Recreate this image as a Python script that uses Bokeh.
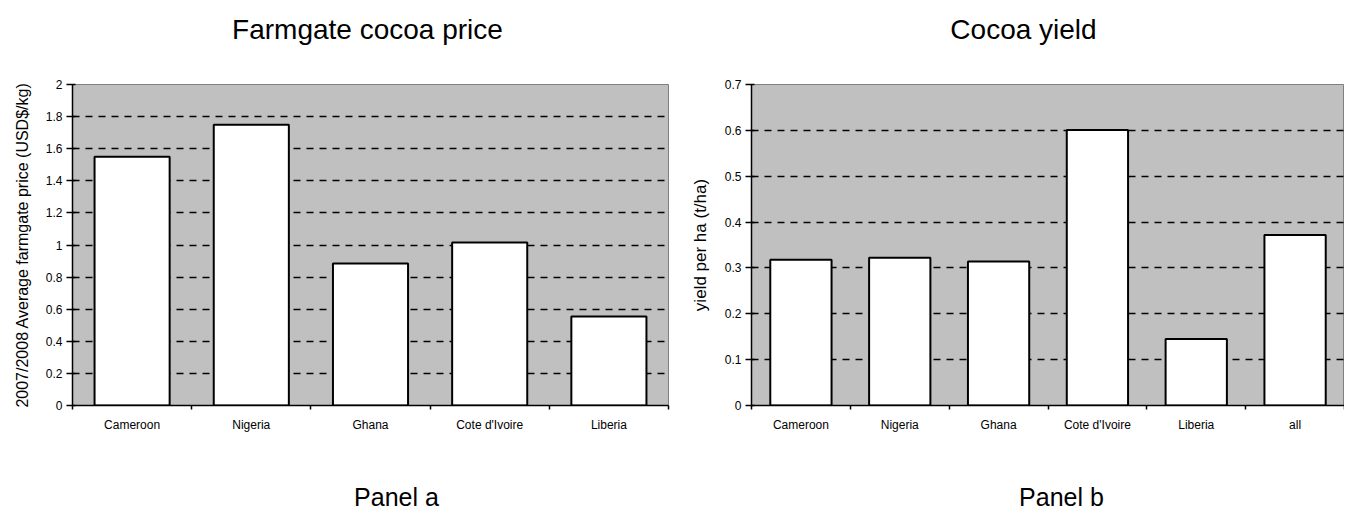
from bokeh.plotting import figure
from bokeh.models import FixedTicker, Range1d, ColumnDataSource
from bokeh.layouts import row, column
from bokeh.core.properties import value
from bokeh.embed import file_html
from bokeh.resources import INLINE

# ---- data ----
price_countries = ["Cameroon", "Nigeria", "Ghana", "Cote d'Ivoire", "Liberia"]
price_values = [1.55, 1.75, 0.885, 1.015, 0.555]
price_ticks = [0, 0.2, 0.4, 0.6, 0.8, 1, 1.2, 1.4, 1.6, 1.8, 2]
price_tick_labels = ["0", "0.2", "0.4", "0.6", "0.8", "1", "1.2", "1.4", "1.6", "1.8", "2"]

yield_countries = ["Cameroon", "Nigeria", "Ghana", "Cote d'Ivoire", "Liberia", "all"]
yield_values = [0.318, 0.322, 0.314, 0.601, 0.145, 0.372]
yield_ticks = [0, 0.1, 0.2, 0.3, 0.4, 0.5, 0.6, 0.7]
yield_tick_labels = ["0", "0.1", "0.2", "0.3", "0.4", "0.5", "0.6", "0.7"]

chart_titles = ["Farmgate cocoa price", "Cocoa yield"]
panel_names = ["Panel a", "Panel b"]
y_labels = ["2007/2008 Average farmgate price (USD$/kg)", "yield per ha (t/ha)"]

FONT = "Liberation Sans"
WA, WB = 686, 658
H_HEAD, H_MAIN, H_FOOT = 60, 378, 80
FRAME_TOP, FRAME_H = 24, 321


def text_fig(width, height, txt, x, y, size):
    p = figure(width=width, height=height, output_backend="svg", toolbar_location=None,
               x_range=Range1d(0, width), y_range=Range1d(0, height),
               min_border=0, x_axis_type=None, y_axis_type=None)
    p.outline_line_color = None
    p.grid.visible = False
    p.background_fill_color = "white"
    p.border_fill_color = "white"
    p.text(x=[x], y=[y], text=[txt], text_font=value(FONT), text_font_size=size,
           text_color="black", text_align="center", text_baseline="middle")
    return p


def panel(cats, vals, ticks, tick_labels, ylabel, ylabel_size, width, ml, mr, bar_w):
    n = len(cats)
    centers = [i + 0.5 for i in range(n)]
    bounds = [float(i) for i in range(n + 1)]
    p = figure(width=width, height=H_MAIN, output_backend="svg", toolbar_location=None,
               x_range=Range1d(0, n), y_range=Range1d(ticks[0], ticks[-1]),
               min_border_left=ml, min_border_right=mr, min_border_top=FRAME_TOP,
               min_border_bottom=H_MAIN - FRAME_TOP - FRAME_H)
    p.background_fill_color = "#C0C0C0"
    p.border_fill_color = "white"
    p.outline_line_color = "#808080"
    p.outline_line_width = 1

    src = ColumnDataSource(dict(x=centers, top=vals, cat=cats))
    p.vbar(x="x", top="top", bottom=0, width=bar_w, source=src,
           fill_color="white", line_color="black", line_width=2)

    xa = p.xaxis[0]
    xa.ticker = FixedTicker(ticks=centers, minor_ticks=bounds)
    xa.major_label_overrides = {c: name for c, name in zip(centers, cats)}
    xa.major_tick_out = 0
    xa.major_tick_in = 0
    xa.minor_tick_out = 4
    xa.minor_tick_in = 0
    xa.minor_tick_line_color = "black"
    xa.minor_tick_line_width = 1.5
    xa.axis_line_color = "black"
    xa.axis_line_width = 1.5
    xa.major_label_standoff = 8
    xa.major_label_text_font = FONT
    xa.major_label_text_font_size = "12px"
    xa.major_label_text_color = "black"

    ya = p.yaxis[0]
    ya.ticker = FixedTicker(ticks=ticks)
    ya.major_label_overrides = {t: l for t, l in zip(ticks, tick_labels)}
    ya.major_tick_out = 6
    ya.major_tick_in = 3
    ya.major_tick_line_color = "black"
    ya.major_tick_line_width = 1.5
    ya.minor_tick_out = 0
    ya.minor_tick_in = 0
    ya.axis_line_color = "black"
    ya.axis_line_width = 1.5
    ya.major_label_standoff = 4
    ya.major_label_text_font = FONT
    ya.major_label_text_font_size = "12px"
    ya.major_label_text_color = "black"
    ya.axis_label = ylabel
    ya.axis_label_text_font = FONT
    ya.axis_label_text_font_style = "normal"
    ya.axis_label_text_font_size = ylabel_size
    ya.axis_label_text_color = "black"
    ya.axis_label_standoff = 12

    p.xgrid.visible = False
    p.ygrid.ticker = FixedTicker(ticks=ticks[1:-1])
    p.ygrid.grid_line_color = "black"
    p.ygrid.grid_line_width = 1.5
    p.ygrid.grid_line_dash = "7 6"
    return p


pa = panel(price_countries, price_values, price_ticks, price_tick_labels,
           y_labels[0], "16px", WA, 72, WA - 72 - 596, 0.63)
pb = panel(yield_countries, yield_values, yield_ticks, yield_tick_labels,
           y_labels[1], "17px", WB, 65, 0, 0.62)

ha = text_fig(WA, H_HEAD, chart_titles[0], 367, 31, "28px")
hb = text_fig(WB, H_HEAD, chart_titles[1], 337, 31, "28px")
fa = text_fig(WA, H_FOOT, panel_names[0], 396, 22, "25px")
fb = text_fig(WB, H_FOOT, panel_names[1], 375, 22, "25px")

layout = column(row(ha, hb), row(pa, pb), row(fa, fb))
open("out.html", "w").write(file_html(layout, INLINE))
